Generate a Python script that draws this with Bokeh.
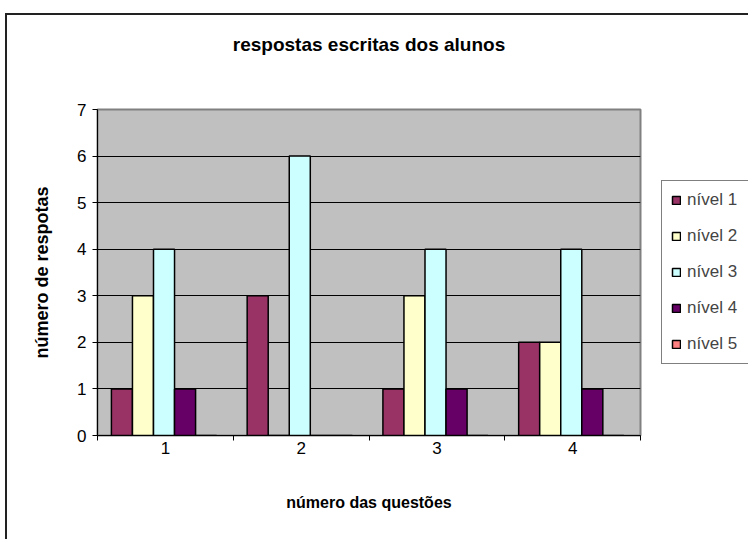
from bokeh.plotting import figure
from bokeh.models import ColumnDataSource, Range1d, FixedTicker, Legend, LegendItem, LinearAxis
from bokeh.transform import dodge
from bokeh.embed import file_html
from bokeh.resources import INLINE

questions = ["1", "2", "3", "4"]
nivel1 = [1, 3, 1, 2]
nivel2 = [3, 0, 3, 2]
nivel3 = [4, 6, 4, 4]
nivel4 = [1, 0, 1, 1]
nivel5 = [0, 0, 0, 0]
series_names = ["nível 1", "nível 2", "nível 3", "nível 4", "nível 5"]
series_colors = ["#993366", "#FFFFCC", "#CCFFFF", "#660066", "#FF8080"]
y_ticks = [0, 1, 2, 3, 4, 5, 6, 7]
title_text = "respostas escritas dos alunos"

FONT = "Liberation Sans"
pos = [i + 0.5 for i in range(len(questions))]
src = ColumnDataSource(dict(x=pos, n1=nivel1, n2=nivel2, n3=nivel3, n4=nivel4, n5=nivel5))

p = figure(x_range=Range1d(0, len(questions)), y_range=Range1d(0, 7),
           frame_width=543, frame_height=326,
           min_border_left=90, min_border_right=106, min_border_top=94, min_border_bottom=104,
           output_backend="svg", toolbar_location=None,
           styles={"margin-left": "5px", "margin-top": "13px",
                   "border-left": "2px solid #222", "border-top": "2px solid #222"})
p.background_fill_color = "#C0C0C0"
p.border_fill_color = "white"
p.outline_line_color = "#808080"
p.outline_line_width = 2

bw = 0.155
offsets = [-2 * bw, -bw, 0, bw, 2 * bw]
cols = ["n1", "n2", "n3", "n4", "n5"]
renderers = []
for c, off, col in zip(cols, offsets, series_colors):
    r = p.vbar(x=dodge("x", off - 0.01, range=p.x_range), top=c, width=bw, source=src,
               fill_color=col, line_color="black", line_width=1.5)
    renderers.append(r)

# grid & axes
p.xgrid.grid_line_color = None
p.ygrid.grid_line_color = "black"
p.ygrid.grid_line_width = 1
p.ygrid.ticker = FixedTicker(ticks=y_ticks)

p.yaxis.ticker = FixedTicker(ticks=y_ticks)
p.yaxis.major_tick_out = 5
p.yaxis.major_tick_in = 0
p.yaxis.minor_tick_line_color = None
p.yaxis.axis_line_color = "black"
p.yaxis.major_label_text_font = FONT
p.yaxis.major_label_text_font_size = "17px"
p.yaxis.major_label_text_color = "black"
p.yaxis.major_label_standoff = 6
p.yaxis.axis_label = "número de respotas"
p.yaxis.axis_label_text_font = FONT
p.yaxis.axis_label_text_font_size = "18px"
p.yaxis.axis_label_text_font_style = "bold"
p.yaxis.axis_label_text_color = "black"
p.yaxis.axis_label_standoff = 22

p.xaxis.ticker = FixedTicker(ticks=pos, minor_ticks=list(range(len(questions) + 1)))
p.xaxis.major_label_overrides = {v: q for v, q in zip(pos, questions)}
p.xaxis.major_tick_line_color = None
p.xaxis.minor_tick_out = 5
p.xaxis.minor_tick_in = 0
p.xaxis.minor_tick_line_color = "black"
p.xaxis.axis_line_color = "black"
p.xaxis.major_label_text_font = FONT
p.xaxis.major_label_text_font_size = "17px"
p.xaxis.major_label_text_color = "black"
p.xaxis.major_label_standoff = 0
p.xaxis.axis_label = "número das questões"
p.xaxis.axis_label_text_font = FONT
p.xaxis.axis_label_text_font_size = "16px"
p.xaxis.axis_label_text_font_style = "bold"
p.xaxis.axis_label_text_color = "black"
p.xaxis.axis_label_standoff = 37

# chart title, drawn as the label of a bare axis above the frame
top_axis = LinearAxis(ticker=FixedTicker(ticks=[]), axis_line_color=None,
                      major_tick_line_color=None, minor_tick_line_color=None,
                      major_tick_out=0, minor_tick_out=0, major_label_standoff=0,
                      axis_label=title_text, axis_label_text_font=FONT,
                      axis_label_text_font_size="19px", axis_label_text_font_style="bold",
                      axis_label_text_color="black", axis_label_standoff=55)
p.add_layout(top_axis, "above")

# legend
legend = Legend(items=[LegendItem(label=n, renderers=[r]) for n, r in zip(series_names, renderers)],
                location="center_left", orientation="vertical",
                glyph_width=10, glyph_height=10, label_height=20, spacing=16,
                label_standoff=6, padding=9, margin=21,
                label_text_font=FONT, label_text_font_size="17px", label_width=53,
                border_line_color="black", border_line_width=1,
                background_fill_color="white", background_fill_alpha=1)
p.add_layout(legend, "right")

open("out.html", "w").write(file_html(p, INLINE))
